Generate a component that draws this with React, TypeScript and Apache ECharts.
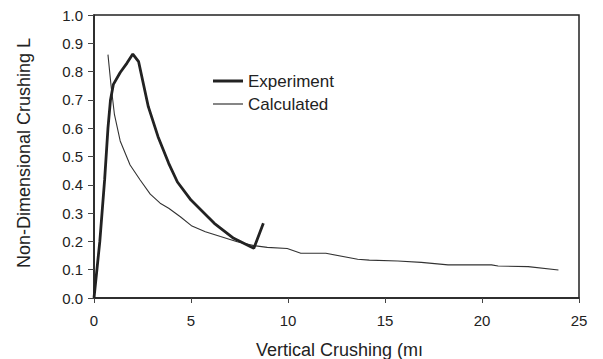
import React, { useEffect, useRef } from "react";
import * as echarts from "echarts";

const expX = [0, 0.3, 0.55, 0.72, 0.85, 1.0, 1.35, 1.7, 2.0, 2.3, 2.8, 3.3, 3.85, 4.3, 5.0, 6.2, 7.2, 8.0, 8.24, 8.73];
const expY = [0, 0.2, 0.42, 0.6, 0.7, 0.755, 0.797, 0.83, 0.862, 0.835, 0.676, 0.57, 0.476, 0.41, 0.346, 0.264, 0.211, 0.184, 0.176, 0.264];

const calcX = [0.72, 0.88, 1.05, 1.35, 1.86, 2.38, 2.9, 3.41, 3.85, 4.45, 5.05, 5.74, 6.52, 7.38, 8.24, 8.93, 9.96, 10.66, 11.95, 13.59, 14.19, 15.66, 16.87, 18.25, 20.49, 20.83, 22.38, 23.94];
const calcY = [0.86, 0.75, 0.65, 0.555, 0.47, 0.417, 0.367, 0.335, 0.317, 0.287, 0.254, 0.234, 0.217, 0.199, 0.185, 0.179, 0.175, 0.158, 0.158, 0.137, 0.134, 0.131, 0.126, 0.117, 0.117, 0.113, 0.111, 0.099];

const seriesNames = ["Experiment", "Calculated"];
const xTitle = "Vertical Crushing (mı";
const yTitle = "Non-Dimensional Crushing L";

const FONT = "'Liberation Sans', Arial, sans-serif";

export default function App() {
  const ref = useRef<HTMLDivElement>(null);
  useEffect(() => {
    if (!ref.current) return;
    const chart = echarts.init(ref.current, null, { renderer: "svg" });
    const legendRows = [
      { name: seriesNames[0], y: 81, width: 3, color: "#222" },
      { name: seriesNames[1], y: 104, width: 1.3, color: "#444" },
    ];
    const legendGraphics: any[] = [];
    legendRows.forEach((r) => {
      legendGraphics.push({
        type: "line",
        shape: { x1: 213, y1: r.y, x2: 243, y2: r.y },
        style: { stroke: r.color, lineWidth: r.width },
      });
      legendGraphics.push({
        type: "text",
        x: 248,
        y: r.y,
        style: {
          text: r.name,
          fontSize: 17,
          fontFamily: FONT,
          fill: "#222",
          textAlign: "left",
          textVerticalAlign: "middle",
        },
      });
    });
    chart.setOption({
      animation: false,
      backgroundColor: "#ffffff",
      textStyle: { fontFamily: FONT },
      grid: {
        left: 94,
        right: 24,
        top: 15,
        bottom: 61,
        show: true,
        borderColor: "#222",
        borderWidth: 1.5,
      },
      xAxis: {
        type: "value",
        min: 0,
        max: 25,
        interval: 5,
        axisLine: { show: true, lineStyle: { color: "#222", width: 1.5 } },
        axisTick: { show: true, length: 5, lineStyle: { color: "#444" } },
        splitLine: { show: false },
        axisLabel: { fontSize: 15, color: "#222", margin: 15, fontFamily: FONT },
      },
      yAxis: {
        type: "value",
        min: 0,
        max: 1,
        interval: 0.1,
        axisLine: { show: true, lineStyle: { color: "#222", width: 1.5 } },
        axisTick: { show: true, length: 6, lineStyle: { color: "#444" } },
        splitLine: { show: false },
        axisLabel: {
          fontSize: 15,
          color: "#222",
          margin: 11,
          fontFamily: FONT,
          formatter: (v: number) => v.toFixed(1),
        },
      },
      graphic: [
        ...legendGraphics,
        {
          type: "text",
          x: 256,
          y: 350,
          style: {
            text: xTitle,
            fontSize: 18,
            fontFamily: FONT,
            fill: "#222",
            textAlign: "left",
            textVerticalAlign: "middle",
          },
        },
        {
          type: "text",
          x: 24,
          y: 153,
          rotation: Math.PI / 2,
          style: {
            text: yTitle,
            fontSize: 18,
            fontFamily: FONT,
            fill: "#222",
            textAlign: "center",
            textVerticalAlign: "middle",
          },
        },
      ],
      series: [
        {
          name: seriesNames[0],
          type: "line",
          data: expX.map((x, i) => [x, expY[i]]),
          showSymbol: false,
          symbol: "none",
          lineStyle: { color: "#222", width: 2.8 },
          itemStyle: { color: "#222" },
          z: 3,
        },
        {
          name: seriesNames[1],
          type: "line",
          data: calcX.map((x, i) => [x, calcY[i]]),
          showSymbol: false,
          symbol: "none",
          lineStyle: { color: "#333", width: 1.1 },
          itemStyle: { color: "#333" },
          z: 2,
        },
      ],
    });
    return () => chart.dispose();
  }, []);
  return (
    <div
      ref={ref}
      style={{ position: "absolute", left: 0, top: 0, width: 603, height: 359 }}
    />
  );
}
